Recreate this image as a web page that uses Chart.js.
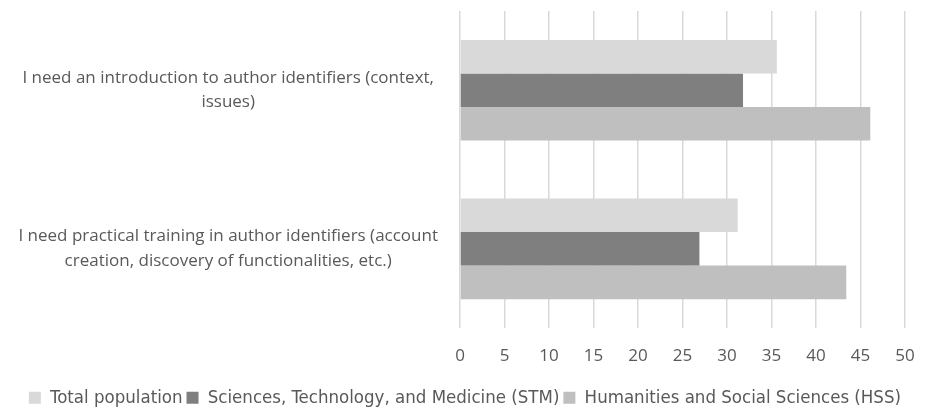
<!DOCTYPE html>
<html>
<head>
<meta charset="utf-8">
<script src="https://cdn.jsdelivr.net/npm/chart.js@4.4.1/dist/chart.umd.min.js"></script>
<style>
  html, body { margin: 0; padding: 0; background: #fff; }
  #wrap { width: 927px; height: 410px; }
</style>
</head>
<body>
<div id="wrap"><canvas id="chart"></canvas></div>
<script>
// categories (top to bottom)
const categories = [
    ['I need an introduction to author identifiers (context,', 'issues)'],
    ['I need practical training in author identifiers (account', 'creation, discovery of functionalities, etc.)']
];

// series values (%)
const totalPopulation = [35.6, 31.2];
const stmValues = [31.8, 26.9];
const hssValues = [46.1, 43.4];

const seriesNames = [
    'Total population',
    'Sciences, Technology, and Medicine (STM)',
    'Humanities and Social Sciences (HSS)'
];

const xMin = 0;
const xMax = 50;
const xStep = 5;

const textColor = '#595959';

const ctx = document.getElementById('chart').getContext('2d');

new Chart(ctx, {
    type: 'bar',
    data: {
        labels: categories,
        datasets: [
            { label: seriesNames[0], data: totalPopulation, backgroundColor: '#d9d9d9' },
            { label: seriesNames[1], data: stmValues, backgroundColor: '#7f7f7f' },
            { label: seriesNames[2], data: hssValues, backgroundColor: '#bfbfbf' }
        ]
    },
    options: {
        indexAxis: 'y',
        responsive: true,
        maintainAspectRatio: false,
        animation: false,
        datasets: {
            bar: {
                categoryPercentage: 0.635,
                barPercentage: 1.0
            }
        },
        layout: {
            padding: { top: 11, right: 22, bottom: -7, left: 0 }
        },
        plugins: {
            legend: {
                position: 'bottom',
                align: 'end',
                labels: {
                    color: textColor,
                    font: { family: 'DejaVu Sans Condensed, Liberation Sans Narrow, sans-serif', size: 18.5 },
                    boxWidth: 12,
                    boxHeight: 12,
                    padding: 4
                }
            },
            tooltip: { enabled: false }
        },
        scales: {
            x: {
                min: xMin,
                max: xMax,
                afterFit: function(scale) {
                    scale.paddingRight = 0;
                },
                ticks: {
                    stepSize: xStep,
                    color: textColor,
                    padding: 18,
                    font: { family: 'Open Sans, sans-serif', size: 17 }
                },
                grid: {
                    color: '#d9d9d9',
                    lineWidth: 1.5,
                    drawTicks: false
                },
                border: { display: false }
            },
            y: {
                afterFit: function(scale) {
                    // fixed label column; drop the padding the tall labels would add
                    scale.width = 460;
                    scale.paddingTop = 0;
                    scale.paddingBottom = 0;
                },
                ticks: {
                    color: textColor,
                    crossAlign: 'center',
                    padding: 14,
                    font: { family: 'Open Sans, sans-serif', size: 17, lineHeight: 1.45 }
                },
                grid: { display: false },
                border: { display: false }
            }
        }
    }
});
</script>
</body>
</html>
